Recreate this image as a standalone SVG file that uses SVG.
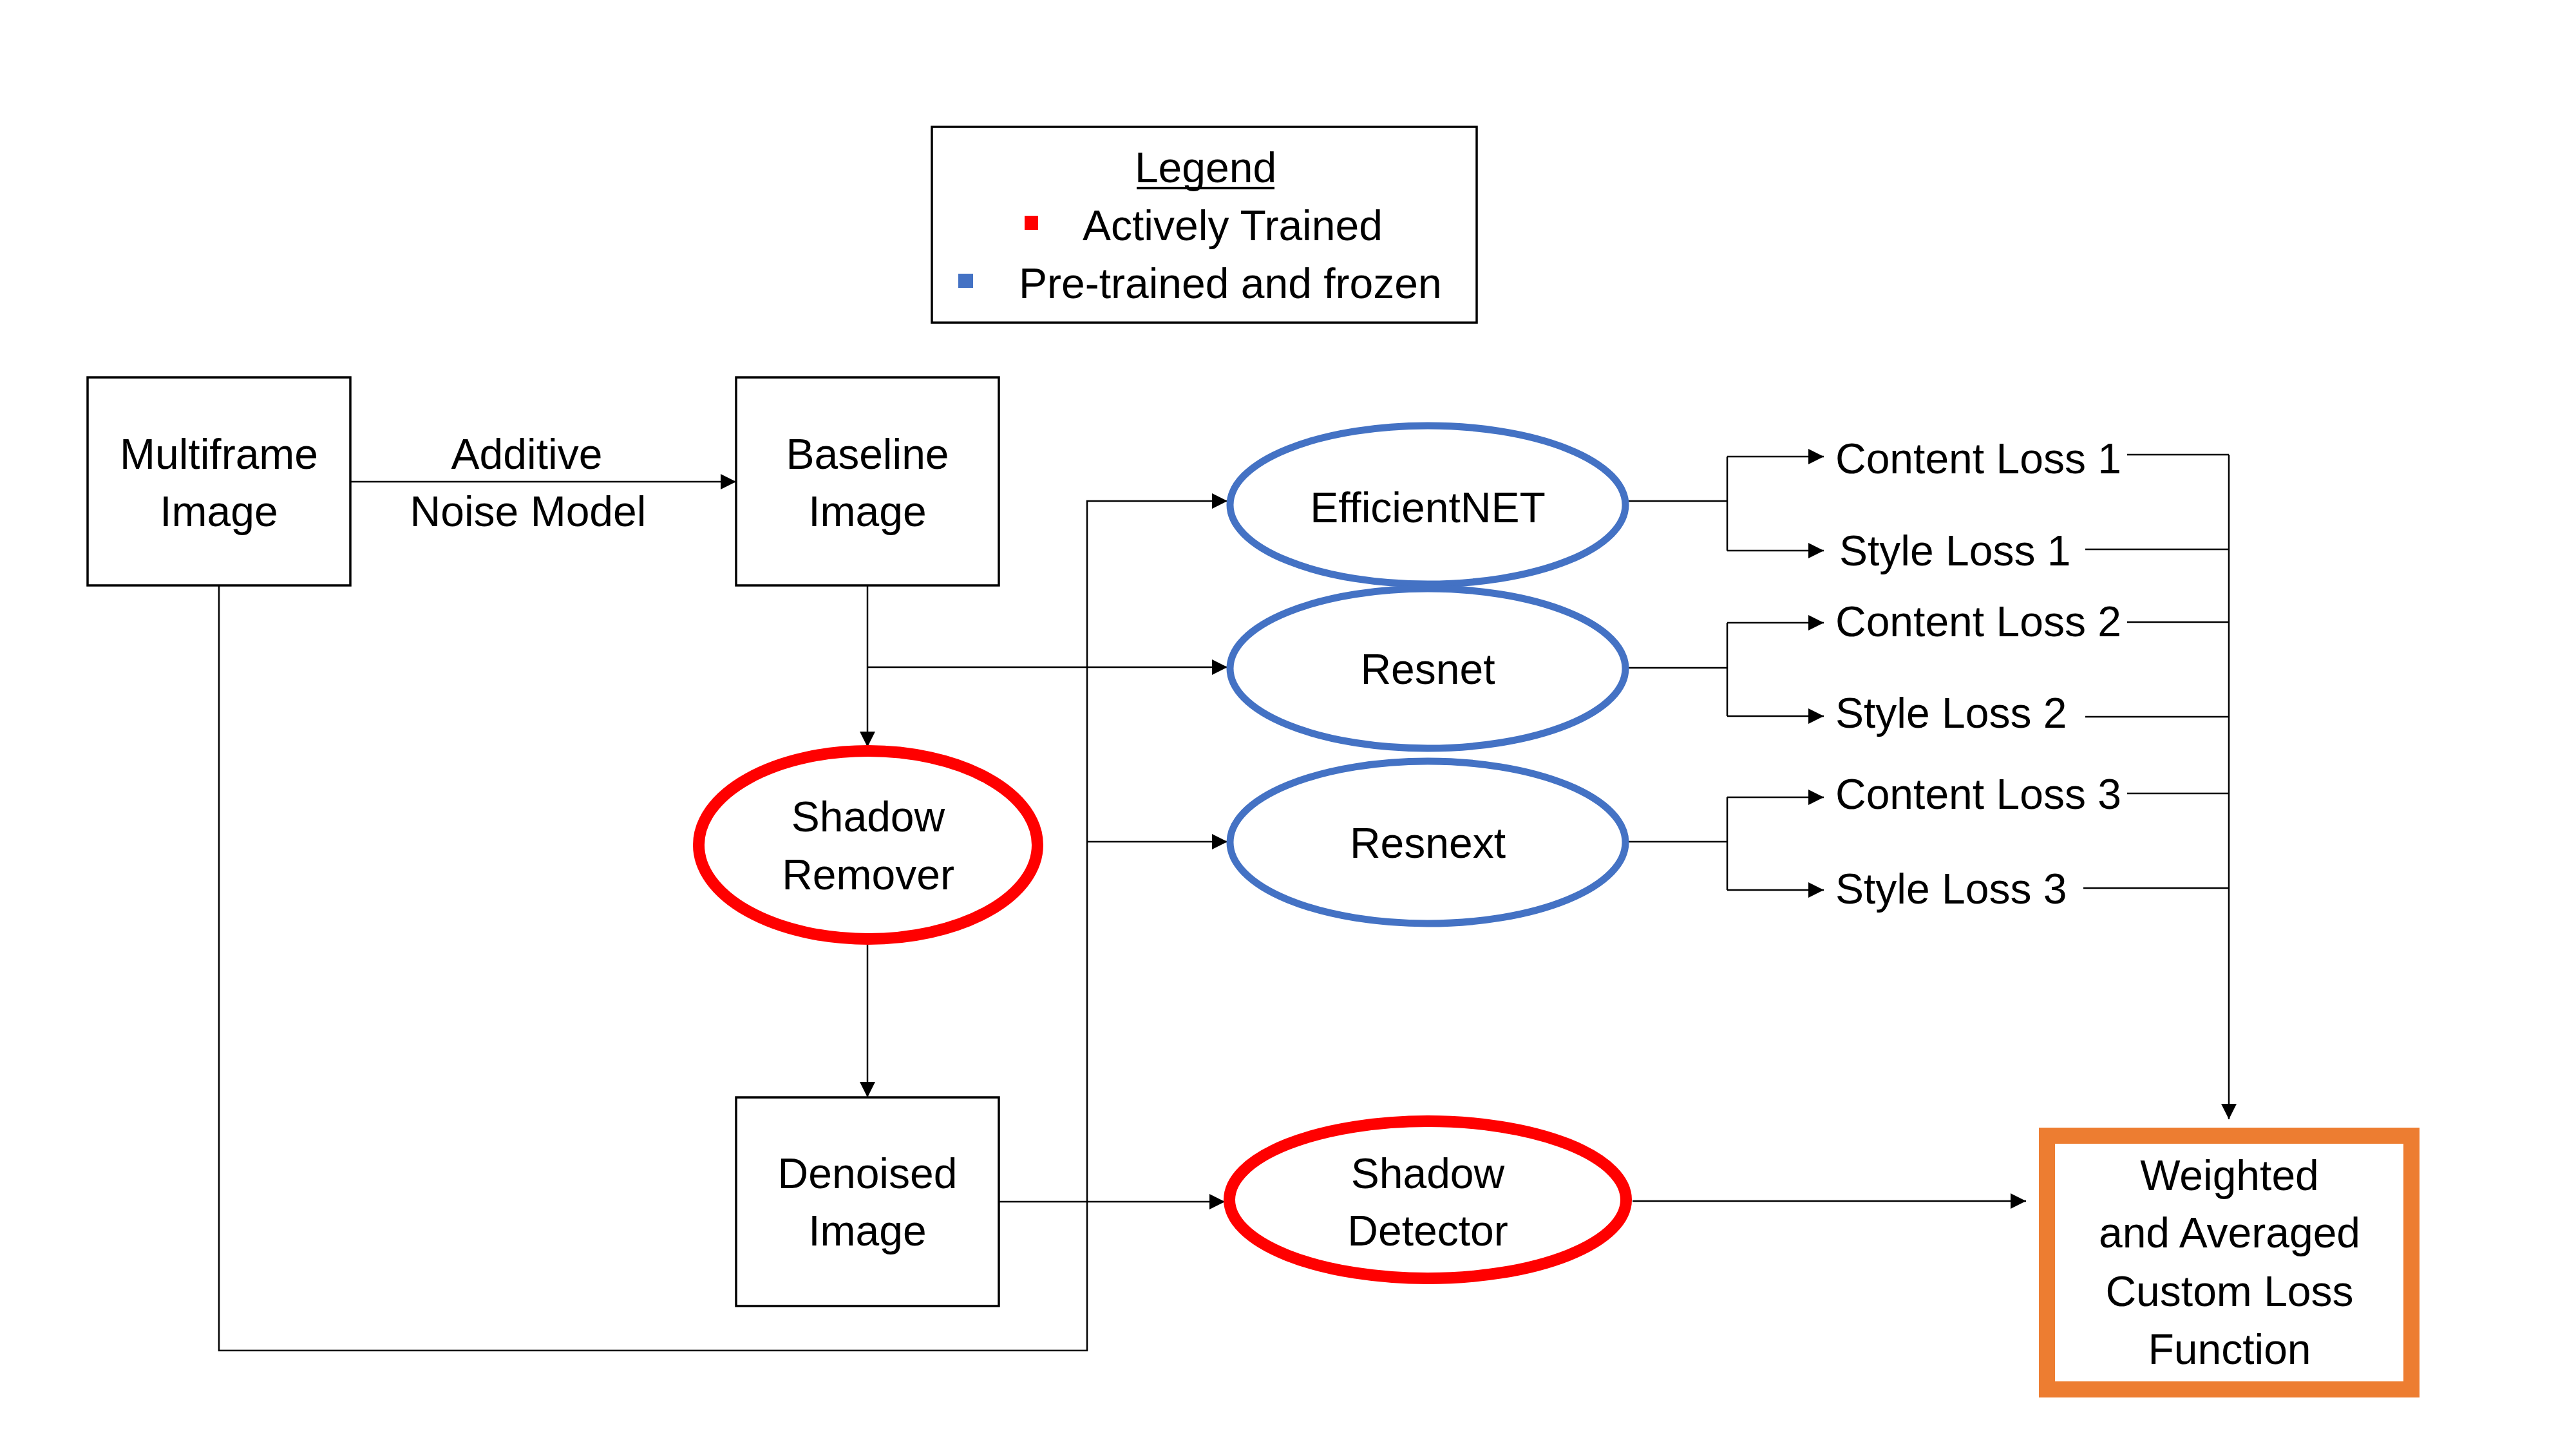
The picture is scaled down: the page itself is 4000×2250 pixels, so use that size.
<svg xmlns="http://www.w3.org/2000/svg" width="4000" height="2250" viewBox="0 0 4000 2250">
<defs>
<marker id="ah" markerUnits="userSpaceOnUse" markerWidth="24" markerHeight="24" refX="24" refY="12" orient="auto">
<path d="M0,0 L24,12 L0,24 z" fill="#000"/>
</marker>
<style>
text{font-family:"Liberation Sans",Arial,sans-serif;font-size:66px;fill:#000}
.c{text-anchor:middle}
.box{fill:#fff;stroke:#000;stroke-width:3.5}
.blue{fill:#fff;stroke:#4472C4;stroke-width:11}
.red{fill:#fff;stroke:#FF0000;stroke-width:18}
.ln{fill:none;stroke:#000;stroke-width:2.5}
.ar{fill:none;stroke:#000;stroke-width:2.5;marker-end:url(#ah)}
</style>
</defs>
<rect width="4000" height="2250" fill="#fff"/>

<g id="connectors">
<path class="ar" d="M544,748 H1143"/>
<path class="ar" d="M1347,909 V1160"/>
<path class="ar" d="M1347,1036 H1906"/>
<path class="ar" d="M1347,1467 V1704"/>
<path class="ar" d="M340,909 V2097 H1688 V778 H1906"/>
<path class="ar" d="M1688,1307 H1906"/>
<path class="ar" d="M1551,1866 H1902"/>
<path class="ar" d="M2535,1865 H3146"/>
<path class="ln" d="M2528,778 H2682 M2682,709 V855"/>
<path class="ar" d="M2682,709 H2832"/>
<path class="ar" d="M2682,855 H2832"/>
<path class="ln" d="M2528,1037 H2682 M2682,967 V1112"/>
<path class="ar" d="M2682,967 H2832"/>
<path class="ar" d="M2682,1112 H2832"/>
<path class="ln" d="M2528,1307 H2682 M2682,1238 V1382"/>
<path class="ar" d="M2682,1238 H2832"/>
<path class="ar" d="M2682,1382 H2832"/>
<path class="ln" d="M3303,706 H3461 M3238,853 H3461 M3303,966 H3461 M3238,1113 H3461 M3303,1232 H3461 M3235,1379 H3461"/>
<path class="ar" d="M3461,706 V1738"/>
</g>

<g id="legend">
<rect x="1447" y="197" width="846" height="304" fill="#fff" stroke="#000" stroke-width="3.5"/>
<text x="1872" y="283" class="c">Legend</text>
<rect x="1765" y="290" width="214" height="4" fill="#000"/>
<rect x="1591" y="335" width="21" height="22" fill="#FF0000"/>
<text x="1681" y="373">Actively Trained</text>
<rect x="1488" y="425" width="23" height="22" fill="#4472C4"/>
<text x="1582" y="463">Pre-trained and frozen</text>
</g>

<g id="multiframe">
<rect class="box" x="136" y="586" width="408" height="323"/>
<text x="340" y="728" class="c">Multiframe</text>
<text x="340" y="817" class="c">Image</text>
</g>

<g id="noise-label">
<text x="818" y="728" class="c">Additive</text>
<text x="820" y="817" class="c">Noise Model</text>
</g>

<g id="baseline">
<rect class="box" x="1143" y="586" width="408" height="323"/>
<text x="1347" y="728" class="c">Baseline</text>
<text x="1347" y="817" class="c">Image</text>
</g>

<g id="shadow-remover">
<ellipse class="red" cx="1348" cy="1312" rx="263" ry="146"/>
<text x="1348" y="1291" class="c">Shadow</text>
<text x="1348" y="1381" class="c">Remover</text>
</g>

<g id="denoised">
<rect class="box" x="1143" y="1704" width="408" height="324"/>
<text x="1347" y="1845" class="c">Denoised</text>
<text x="1347" y="1934" class="c">Image</text>
</g>

<g id="efficientnet">
<ellipse class="blue" cx="2217" cy="784" rx="307" ry="123"/>
<text x="2217" y="811" class="c">EfficientNET</text>
</g>

<g id="resnet">
<ellipse class="blue" cx="2217" cy="1038" rx="307" ry="124"/>
<text x="2217" y="1062" class="c">Resnet</text>
</g>

<g id="resnext">
<ellipse class="blue" cx="2217" cy="1308" rx="307" ry="126"/>
<text x="2217" y="1332" class="c">Resnext</text>
</g>

<g id="shadow-detector">
<ellipse class="red" cx="2217" cy="1863" rx="308" ry="122"/>
<text x="2217" y="1845" class="c">Shadow</text>
<text x="2217" y="1934" class="c">Detector</text>
</g>

<g id="losses">
<text x="2850" y="735">Content Loss 1</text>
<text x="2856" y="878">Style Loss 1</text>
<text x="2850" y="988">Content Loss 2</text>
<text x="2850" y="1130">Style Loss 2</text>
<text x="2850" y="1256">Content Loss 3</text>
<text x="2850" y="1403">Style Loss 3</text>
</g>

<g id="custom-loss">
<rect x="3178.5" y="1763.5" width="566" height="394" fill="#fff" stroke="#ED7D31" stroke-width="25"/>
<text x="3462" y="1848" class="c">Weighted</text>
<text x="3462" y="1937" class="c">and Averaged</text>
<text x="3462" y="2028" class="c">Custom Loss</text>
<text x="3462" y="2118" class="c">Function</text>
</g>
</svg>
